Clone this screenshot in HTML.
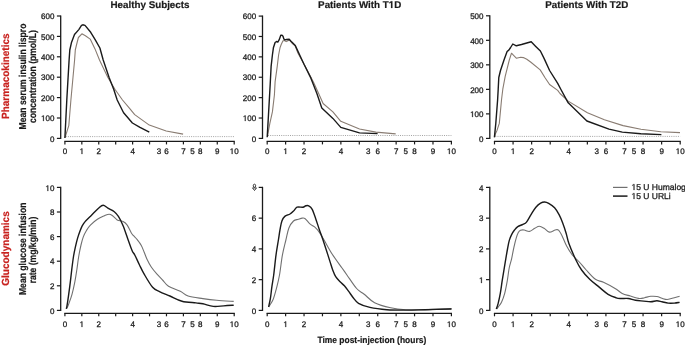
<!DOCTYPE html>
<html><head><meta charset="utf-8"><style>
html,body{margin:0;padding:0;background:#fff;}
svg{display:block;will-change:transform;}
text{font-family:"Liberation Sans", sans-serif;fill:#1a1a1a;text-rendering:geometricPrecision;}
.n{stroke:#1a1a1a;stroke-width:0.28px;}
[font-weight=bold]{stroke:#1a1a1a;stroke-width:0.2px;}
</style></head><body>
<svg width="685" height="346" viewBox="0 0 685 346">
<text x="150.0" y="8.1" text-anchor="middle" font-weight="bold" font-size="9.8">Healthy Subjects</text>
<text x="359.7" y="8.1" text-anchor="middle" font-weight="bold" font-size="9.8">Patients With T D</text>
<text x="586.8" y="8.1" text-anchor="middle" font-weight="bold" font-size="9.8">Patients With T2D</text>
<line x1="60.7" y1="15.4" x2="60.7" y2="139.0" stroke="#1a1a1a" stroke-width="1.3"/>
<line x1="56.900000000000006" y1="138.40" x2="60.7" y2="138.40" stroke="#1a1a1a" stroke-width="1.2"/>
<text x="54.40" y="141.60" text-anchor="end" font-size="8" class="n">0</text>
<line x1="56.900000000000006" y1="118.00" x2="60.7" y2="118.00" stroke="#1a1a1a" stroke-width="1.2"/>
<text x="54.40" y="121.20" text-anchor="end" font-size="8" class="n"> 00</text>
<line x1="56.900000000000006" y1="97.60" x2="60.7" y2="97.60" stroke="#1a1a1a" stroke-width="1.2"/>
<text x="54.40" y="100.80" text-anchor="end" font-size="8" class="n">200</text>
<line x1="56.900000000000006" y1="77.20" x2="60.7" y2="77.20" stroke="#1a1a1a" stroke-width="1.2"/>
<text x="54.40" y="80.40" text-anchor="end" font-size="8" class="n">300</text>
<line x1="56.900000000000006" y1="56.80" x2="60.7" y2="56.80" stroke="#1a1a1a" stroke-width="1.2"/>
<text x="54.40" y="60.00" text-anchor="end" font-size="8" class="n">400</text>
<line x1="56.900000000000006" y1="36.40" x2="60.7" y2="36.40" stroke="#1a1a1a" stroke-width="1.2"/>
<text x="54.40" y="39.60" text-anchor="end" font-size="8" class="n">500</text>
<line x1="56.900000000000006" y1="16.00" x2="60.7" y2="16.00" stroke="#1a1a1a" stroke-width="1.2"/>
<text x="54.40" y="19.20" text-anchor="end" font-size="8" class="n">600</text>
<line x1="64.30000000000001" y1="141.4" x2="234.8" y2="141.4" stroke="#1a1a1a" stroke-width="1.3"/>
<line x1="64.90" y1="141.4" x2="64.90" y2="144.4" stroke="#1a1a1a" stroke-width="1.2"/>
<line x1="81.83" y1="141.4" x2="81.83" y2="144.4" stroke="#1a1a1a" stroke-width="1.2"/>
<line x1="98.76" y1="141.4" x2="98.76" y2="144.4" stroke="#1a1a1a" stroke-width="1.2"/>
<line x1="115.69" y1="141.4" x2="115.69" y2="144.4" stroke="#1a1a1a" stroke-width="1.2"/>
<line x1="132.62" y1="141.4" x2="132.62" y2="144.4" stroke="#1a1a1a" stroke-width="1.2"/>
<line x1="149.55" y1="141.4" x2="149.55" y2="144.4" stroke="#1a1a1a" stroke-width="1.2"/>
<line x1="166.48" y1="141.4" x2="166.48" y2="144.4" stroke="#1a1a1a" stroke-width="1.2"/>
<line x1="183.41" y1="141.4" x2="183.41" y2="144.4" stroke="#1a1a1a" stroke-width="1.2"/>
<line x1="200.34" y1="141.4" x2="200.34" y2="144.4" stroke="#1a1a1a" stroke-width="1.2"/>
<line x1="217.27" y1="141.4" x2="217.27" y2="144.4" stroke="#1a1a1a" stroke-width="1.2"/>
<line x1="234.20" y1="141.4" x2="234.20" y2="144.4" stroke="#1a1a1a" stroke-width="1.2"/>
<text x="64.90" y="154.2" text-anchor="middle" font-size="8" class="n">0</text>
<text x="81.83" y="154.2" text-anchor="middle" font-size="8" class="n"> </text>
<text x="98.76" y="154.2" text-anchor="middle" font-size="8" class="n">2</text>
<text x="132.62" y="154.2" text-anchor="middle" font-size="8" class="n">4</text>
<text x="159.03" y="154.2" text-anchor="middle" font-size="8" class="n">3</text>
<text x="166.48" y="154.2" text-anchor="middle" font-size="8" class="n">6</text>
<text x="183.41" y="154.2" text-anchor="middle" font-size="8" class="n">7</text>
<text x="192.55" y="154.2" text-anchor="middle" font-size="8" class="n">5</text>
<text x="200.34" y="154.2" text-anchor="middle" font-size="8" class="n">8</text>
<text x="217.27" y="154.2" text-anchor="middle" font-size="8" class="n">9</text>
<text x="234.20" y="154.2" text-anchor="middle" font-size="8" class="n"> 0</text>
<line x1="65.7" y1="136.6" x2="234.20000000000002" y2="136.6" stroke="#9a9a9a" stroke-width="0.9" stroke-dasharray="1 1.2"/>
<polyline points="65.2,137.5 65.8,135.0 68.8,125.7 70.9,100.0 74.6,60.0 75.3,50.0 76.6,44.5 78.4,37.5 81.9,33.8 85.4,35.8 90.2,39.1 95.0,48.9 99.5,60.0 107.9,77.5 114.9,89.2 122.5,100.0 130.0,108.8 134.7,114.6 149.3,125.1 166.2,131.0 183.1,134.1" fill="none" stroke="#897c72" stroke-width="1.1" stroke-linejoin="round"/>
<polyline points="64.9,138.0 66.8,100.0 69.1,60.0 69.8,50.0 71.4,42.8 74.5,34.5 78.8,29.6 81.5,25.4 82.8,24.8 85.0,25.4 90.7,32.3 95.0,39.3 99.9,48.0 103.2,60.0 109.1,77.5 113.7,89.2 117.2,100.0 123.6,112.8 132.4,123.0 140.0,127.4 149.3,132.1" fill="none" stroke="#1a1a1a" stroke-width="1.4" stroke-linejoin="round"/>
<line x1="262.5" y1="15.500000000000002" x2="262.5" y2="139.0" stroke="#1a1a1a" stroke-width="1.3"/>
<line x1="258.7" y1="138.40" x2="262.5" y2="138.40" stroke="#1a1a1a" stroke-width="1.2"/>
<text x="256.20" y="141.60" text-anchor="end" font-size="8" class="n">0</text>
<line x1="258.7" y1="118.02" x2="262.5" y2="118.02" stroke="#1a1a1a" stroke-width="1.2"/>
<text x="256.20" y="121.22" text-anchor="end" font-size="8" class="n"> 00</text>
<line x1="258.7" y1="97.63" x2="262.5" y2="97.63" stroke="#1a1a1a" stroke-width="1.2"/>
<text x="256.20" y="100.83" text-anchor="end" font-size="8" class="n">200</text>
<line x1="258.7" y1="77.25" x2="262.5" y2="77.25" stroke="#1a1a1a" stroke-width="1.2"/>
<text x="256.20" y="80.45" text-anchor="end" font-size="8" class="n">300</text>
<line x1="258.7" y1="56.87" x2="262.5" y2="56.87" stroke="#1a1a1a" stroke-width="1.2"/>
<text x="256.20" y="60.07" text-anchor="end" font-size="8" class="n">400</text>
<line x1="258.7" y1="36.48" x2="262.5" y2="36.48" stroke="#1a1a1a" stroke-width="1.2"/>
<text x="256.20" y="39.68" text-anchor="end" font-size="8" class="n">500</text>
<line x1="258.7" y1="16.10" x2="262.5" y2="16.10" stroke="#1a1a1a" stroke-width="1.2"/>
<text x="256.20" y="19.30" text-anchor="end" font-size="8" class="n">600</text>
<line x1="266.59999999999997" y1="141.4" x2="452.0" y2="141.4" stroke="#1a1a1a" stroke-width="1.3"/>
<line x1="267.20" y1="141.4" x2="267.20" y2="144.4" stroke="#1a1a1a" stroke-width="1.2"/>
<line x1="285.62" y1="141.4" x2="285.62" y2="144.4" stroke="#1a1a1a" stroke-width="1.2"/>
<line x1="304.04" y1="141.4" x2="304.04" y2="144.4" stroke="#1a1a1a" stroke-width="1.2"/>
<line x1="322.46" y1="141.4" x2="322.46" y2="144.4" stroke="#1a1a1a" stroke-width="1.2"/>
<line x1="340.88" y1="141.4" x2="340.88" y2="144.4" stroke="#1a1a1a" stroke-width="1.2"/>
<line x1="359.30" y1="141.4" x2="359.30" y2="144.4" stroke="#1a1a1a" stroke-width="1.2"/>
<line x1="377.72" y1="141.4" x2="377.72" y2="144.4" stroke="#1a1a1a" stroke-width="1.2"/>
<line x1="396.14" y1="141.4" x2="396.14" y2="144.4" stroke="#1a1a1a" stroke-width="1.2"/>
<line x1="414.56" y1="141.4" x2="414.56" y2="144.4" stroke="#1a1a1a" stroke-width="1.2"/>
<line x1="432.98" y1="141.4" x2="432.98" y2="144.4" stroke="#1a1a1a" stroke-width="1.2"/>
<line x1="451.40" y1="141.4" x2="451.40" y2="144.4" stroke="#1a1a1a" stroke-width="1.2"/>
<text x="267.20" y="154.2" text-anchor="middle" font-size="8" class="n">0</text>
<text x="285.62" y="154.2" text-anchor="middle" font-size="8" class="n"> </text>
<text x="304.04" y="154.2" text-anchor="middle" font-size="8" class="n">2</text>
<text x="340.88" y="154.2" text-anchor="middle" font-size="8" class="n">4</text>
<text x="368.14" y="154.2" text-anchor="middle" font-size="8" class="n">3</text>
<text x="377.72" y="154.2" text-anchor="middle" font-size="8" class="n">6</text>
<text x="396.14" y="154.2" text-anchor="middle" font-size="8" class="n">7</text>
<text x="405.72" y="154.2" text-anchor="middle" font-size="8" class="n">5</text>
<text x="414.56" y="154.2" text-anchor="middle" font-size="8" class="n">8</text>
<text x="432.98" y="154.2" text-anchor="middle" font-size="8" class="n">9</text>
<text x="451.40" y="154.2" text-anchor="middle" font-size="8" class="n"> 0</text>
<line x1="268.0" y1="135.5" x2="451.4" y2="135.5" stroke="#9a9a9a" stroke-width="0.9" stroke-dasharray="1 1.2"/>
<polyline points="267.5,136.5 267.9,134.0 269.8,123.6 272.4,111.9 274.4,95.0 275.1,81.9 277.2,66.7 278.6,55.0 280.0,47.8 281.3,44.3 283.0,40.8 284.6,40.6 286.1,41.6 287.4,40.9 289.2,39.9 292.7,43.8 295.3,46.0 297.9,53.0 299.5,56.0 304.5,65.0 313.4,81.9 319.2,94.7 323.1,103.5 332.9,111.9 340.8,121.3 359.5,129.0 375.9,132.1 395.7,133.9" fill="none" stroke="#897c72" stroke-width="1.1" stroke-linejoin="round"/>
<polyline points="267.2,137.3 268.5,114.5 269.6,95.0 270.2,84.2 271.1,66.7 272.4,55.0 273.4,47.8 275.1,42.5 276.5,41.5 277.8,42.1 279.1,39.9 280.8,35.3 282.0,35.1 283.0,36.2 283.9,39.0 284.9,39.9 286.5,39.5 289.2,39.2 291.8,42.1 295.3,45.6 299.7,55.0 304.0,64.3 311.0,78.4 316.9,93.5 321.8,108.0 332.9,118.4 340.8,127.4 359.5,132.9 377.6,133.6" fill="none" stroke="#1a1a1a" stroke-width="1.4" stroke-linejoin="round"/>
<line x1="489.8" y1="15.200000000000001" x2="489.8" y2="139.0" stroke="#1a1a1a" stroke-width="1.3"/>
<line x1="486.0" y1="138.40" x2="489.8" y2="138.40" stroke="#1a1a1a" stroke-width="1.2"/>
<text x="483.50" y="141.60" text-anchor="end" font-size="8" class="n">0</text>
<line x1="486.0" y1="113.88" x2="489.8" y2="113.88" stroke="#1a1a1a" stroke-width="1.2"/>
<text x="483.50" y="117.08" text-anchor="end" font-size="8" class="n"> 00</text>
<line x1="486.0" y1="89.36" x2="489.8" y2="89.36" stroke="#1a1a1a" stroke-width="1.2"/>
<text x="483.50" y="92.56" text-anchor="end" font-size="8" class="n">200</text>
<line x1="486.0" y1="64.84" x2="489.8" y2="64.84" stroke="#1a1a1a" stroke-width="1.2"/>
<text x="483.50" y="68.04" text-anchor="end" font-size="8" class="n">300</text>
<line x1="486.0" y1="40.32" x2="489.8" y2="40.32" stroke="#1a1a1a" stroke-width="1.2"/>
<text x="483.50" y="43.52" text-anchor="end" font-size="8" class="n">400</text>
<line x1="486.0" y1="15.80" x2="489.8" y2="15.80" stroke="#1a1a1a" stroke-width="1.2"/>
<text x="483.50" y="19.00" text-anchor="end" font-size="8" class="n">500</text>
<line x1="493.9" y1="141.4" x2="680.8000000000001" y2="141.4" stroke="#1a1a1a" stroke-width="1.3"/>
<line x1="494.50" y1="141.4" x2="494.50" y2="144.4" stroke="#1a1a1a" stroke-width="1.2"/>
<line x1="513.07" y1="141.4" x2="513.07" y2="144.4" stroke="#1a1a1a" stroke-width="1.2"/>
<line x1="531.64" y1="141.4" x2="531.64" y2="144.4" stroke="#1a1a1a" stroke-width="1.2"/>
<line x1="550.21" y1="141.4" x2="550.21" y2="144.4" stroke="#1a1a1a" stroke-width="1.2"/>
<line x1="568.78" y1="141.4" x2="568.78" y2="144.4" stroke="#1a1a1a" stroke-width="1.2"/>
<line x1="587.35" y1="141.4" x2="587.35" y2="144.4" stroke="#1a1a1a" stroke-width="1.2"/>
<line x1="605.92" y1="141.4" x2="605.92" y2="144.4" stroke="#1a1a1a" stroke-width="1.2"/>
<line x1="624.49" y1="141.4" x2="624.49" y2="144.4" stroke="#1a1a1a" stroke-width="1.2"/>
<line x1="643.06" y1="141.4" x2="643.06" y2="144.4" stroke="#1a1a1a" stroke-width="1.2"/>
<line x1="661.63" y1="141.4" x2="661.63" y2="144.4" stroke="#1a1a1a" stroke-width="1.2"/>
<line x1="680.20" y1="141.4" x2="680.20" y2="144.4" stroke="#1a1a1a" stroke-width="1.2"/>
<text x="494.50" y="154.2" text-anchor="middle" font-size="8" class="n">0</text>
<text x="513.07" y="154.2" text-anchor="middle" font-size="8" class="n"> </text>
<text x="531.64" y="154.2" text-anchor="middle" font-size="8" class="n">2</text>
<text x="568.78" y="154.2" text-anchor="middle" font-size="8" class="n">4</text>
<text x="596.82" y="154.2" text-anchor="middle" font-size="8" class="n">3</text>
<text x="605.92" y="154.2" text-anchor="middle" font-size="8" class="n">6</text>
<text x="624.49" y="154.2" text-anchor="middle" font-size="8" class="n">7</text>
<text x="633.96" y="154.2" text-anchor="middle" font-size="8" class="n">5</text>
<text x="643.06" y="154.2" text-anchor="middle" font-size="8" class="n">8</text>
<text x="661.63" y="154.2" text-anchor="middle" font-size="8" class="n">9</text>
<text x="680.20" y="154.2" text-anchor="middle" font-size="8" class="n"> 0</text>
<line x1="495.3" y1="136.4" x2="680.2" y2="136.4" stroke="#9a9a9a" stroke-width="0.9" stroke-dasharray="1 1.2"/>
<polyline points="494.8,136.5 495.3,133.9 497.0,130.4 499.3,123.4 501.5,100.0 502.8,89.2 505.2,76.4 509.3,60.0 511.5,53.2 513.6,55.4 516.3,58.2 520.7,57.3 523.3,57.6 526.8,59.3 530.9,62.3 540.2,69.9 544.9,77.5 549.6,84.5 557.7,90.4 560.0,93.5 568.2,101.1 587.4,112.8 604.4,119.8 623.1,125.6 640.9,129.2 660.8,131.7 680.0,132.6" fill="none" stroke="#897c72" stroke-width="1.1" stroke-linejoin="round"/>
<polyline points="494.4,137.4 495.8,123.4 497.6,100.0 498.2,89.2 498.8,77.5 500.5,70.5 504.0,60.0 507.1,51.5 508.8,50.1 510.6,47.5 512.8,44.0 516.3,45.8 521.5,44.5 526.8,43.0 531.2,41.8 535.5,46.2 540.4,51.0 544.3,58.9 549.6,70.5 557.7,83.4 561.2,90.0 568.2,102.8 586.9,121.0 609.0,129.1 622.3,132.1 640.9,133.8 661.4,134.6" fill="none" stroke="#1a1a1a" stroke-width="1.4" stroke-linejoin="round"/>
<line x1="60.7" y1="186.8" x2="60.7" y2="311.0" stroke="#1a1a1a" stroke-width="1.3"/>
<line x1="56.900000000000006" y1="310.40" x2="60.7" y2="310.40" stroke="#1a1a1a" stroke-width="1.2"/>
<text x="54.40" y="313.60" text-anchor="end" font-size="8" class="n">0</text>
<line x1="56.900000000000006" y1="285.80" x2="60.7" y2="285.80" stroke="#1a1a1a" stroke-width="1.2"/>
<text x="54.40" y="289.00" text-anchor="end" font-size="8" class="n">2</text>
<line x1="56.900000000000006" y1="261.20" x2="60.7" y2="261.20" stroke="#1a1a1a" stroke-width="1.2"/>
<text x="54.40" y="264.40" text-anchor="end" font-size="8" class="n">4</text>
<line x1="56.900000000000006" y1="236.60" x2="60.7" y2="236.60" stroke="#1a1a1a" stroke-width="1.2"/>
<text x="54.40" y="239.80" text-anchor="end" font-size="8" class="n">6</text>
<line x1="56.900000000000006" y1="212.00" x2="60.7" y2="212.00" stroke="#1a1a1a" stroke-width="1.2"/>
<text x="54.40" y="215.20" text-anchor="end" font-size="8" class="n">8</text>
<line x1="56.900000000000006" y1="187.40" x2="60.7" y2="187.40" stroke="#1a1a1a" stroke-width="1.2"/>
<text x="54.40" y="190.60" text-anchor="end" font-size="8" class="n"> 0</text>
<line x1="64.30000000000001" y1="313.3" x2="234.8" y2="313.3" stroke="#1a1a1a" stroke-width="1.3"/>
<line x1="64.90" y1="313.3" x2="64.90" y2="316.3" stroke="#1a1a1a" stroke-width="1.2"/>
<line x1="81.83" y1="313.3" x2="81.83" y2="316.3" stroke="#1a1a1a" stroke-width="1.2"/>
<line x1="98.76" y1="313.3" x2="98.76" y2="316.3" stroke="#1a1a1a" stroke-width="1.2"/>
<line x1="115.69" y1="313.3" x2="115.69" y2="316.3" stroke="#1a1a1a" stroke-width="1.2"/>
<line x1="132.62" y1="313.3" x2="132.62" y2="316.3" stroke="#1a1a1a" stroke-width="1.2"/>
<line x1="149.55" y1="313.3" x2="149.55" y2="316.3" stroke="#1a1a1a" stroke-width="1.2"/>
<line x1="166.48" y1="313.3" x2="166.48" y2="316.3" stroke="#1a1a1a" stroke-width="1.2"/>
<line x1="183.41" y1="313.3" x2="183.41" y2="316.3" stroke="#1a1a1a" stroke-width="1.2"/>
<line x1="200.34" y1="313.3" x2="200.34" y2="316.3" stroke="#1a1a1a" stroke-width="1.2"/>
<line x1="217.27" y1="313.3" x2="217.27" y2="316.3" stroke="#1a1a1a" stroke-width="1.2"/>
<line x1="234.20" y1="313.3" x2="234.20" y2="316.3" stroke="#1a1a1a" stroke-width="1.2"/>
<text x="64.90" y="327.2" text-anchor="middle" font-size="8" class="n">0</text>
<text x="81.83" y="327.2" text-anchor="middle" font-size="8" class="n"> </text>
<text x="98.76" y="327.2" text-anchor="middle" font-size="8" class="n">2</text>
<text x="132.62" y="327.2" text-anchor="middle" font-size="8" class="n">4</text>
<text x="159.03" y="327.2" text-anchor="middle" font-size="8" class="n">3</text>
<text x="166.48" y="327.2" text-anchor="middle" font-size="8" class="n">6</text>
<text x="183.41" y="327.2" text-anchor="middle" font-size="8" class="n">7</text>
<text x="192.55" y="327.2" text-anchor="middle" font-size="8" class="n">5</text>
<text x="200.34" y="327.2" text-anchor="middle" font-size="8" class="n">8</text>
<text x="217.27" y="327.2" text-anchor="middle" font-size="8" class="n">9</text>
<text x="234.20" y="327.2" text-anchor="middle" font-size="8" class="n"> 0</text>
<path d="M66.90,308.30 C67.20,307.58 67.85,306.33 68.70,304.00 C69.55,301.67 70.98,297.95 72.00,294.30 C73.02,290.65 74.00,286.15 74.80,282.10 C75.60,278.05 76.15,274.27 76.80,270.00 C77.45,265.73 78.00,260.67 78.70,256.50 C79.40,252.33 80.23,248.27 81.00,245.00 C81.77,241.73 82.37,239.35 83.30,236.90 C84.23,234.45 85.42,232.27 86.60,230.30 C87.78,228.33 88.60,226.93 90.40,225.10 C92.20,223.27 95.07,220.85 97.40,219.30 C99.73,217.75 102.45,216.65 104.40,215.80 C106.35,214.95 107.73,214.20 109.10,214.20 C110.47,214.20 111.25,214.85 112.60,215.80 C113.95,216.75 115.45,218.93 117.20,219.90 C118.95,220.87 121.43,220.73 123.10,221.60 C124.77,222.47 125.85,223.25 127.20,225.10 C128.55,226.95 130.15,230.93 131.20,232.70 C132.25,234.47 132.50,234.55 133.50,235.70 C134.50,236.85 135.90,237.98 137.20,239.60 C138.50,241.22 140.13,243.28 141.30,245.40 C142.47,247.52 143.25,250.00 144.20,252.30 C145.15,254.60 145.85,256.80 147.00,259.20 C148.15,261.60 149.43,264.20 151.10,266.70 C152.77,269.20 155.02,271.90 157.00,274.20 C158.98,276.50 161.08,278.48 163.00,280.50 C164.92,282.52 165.62,284.50 168.50,286.30 C171.38,288.10 177.03,289.68 180.30,291.30 C183.57,292.92 184.33,294.78 188.10,296.00 C191.87,297.22 198.13,297.88 202.90,298.60 C207.67,299.32 211.57,299.83 216.70,300.30 C221.83,300.77 230.87,301.22 233.70,301.40" fill="none" stroke="#707070" stroke-width="1.1" stroke-linejoin="round"/>
<path d="M66.30,308.90 C66.43,308.28 66.70,307.63 67.10,305.20 C67.50,302.77 68.17,298.15 68.70,294.30 C69.23,290.45 69.80,286.15 70.30,282.10 C70.80,278.05 71.17,274.27 71.70,270.00 C72.23,265.73 72.90,260.28 73.50,256.50 C74.10,252.72 74.62,250.37 75.30,247.30 C75.98,244.23 76.78,240.90 77.60,238.10 C78.42,235.30 79.43,232.55 80.20,230.50 C80.97,228.45 81.38,227.28 82.20,225.80 C83.02,224.32 83.55,223.37 85.10,221.60 C86.65,219.83 89.27,217.43 91.50,215.20 C93.73,212.97 96.55,209.85 98.50,208.20 C100.45,206.55 101.63,205.30 103.20,205.30 C104.77,205.30 106.05,207.13 107.90,208.20 C109.75,209.27 112.55,210.33 114.30,211.70 C116.05,213.07 116.93,214.07 118.40,216.40 C119.87,218.73 121.50,221.83 123.10,225.70 C124.70,229.57 126.77,236.13 128.00,239.60 C129.23,243.07 129.73,244.48 130.50,246.50 C131.27,248.52 131.87,250.25 132.60,251.70 C133.33,253.15 133.75,252.98 134.90,255.20 C136.05,257.42 137.95,261.83 139.50,265.00 C141.05,268.17 142.02,270.48 144.20,274.20 C146.38,277.92 150.05,284.40 152.60,287.30 C155.15,290.20 156.62,290.15 159.50,291.60 C162.38,293.05 166.15,294.40 169.90,296.00 C173.65,297.60 177.67,300.05 182.00,301.20 C186.33,302.35 192.42,302.47 195.90,302.90 C199.38,303.33 200.00,303.22 202.90,303.80 C205.80,304.38 209.83,306.05 213.30,306.40 C216.77,306.75 220.30,306.10 223.70,305.90 C227.10,305.70 232.03,305.32 233.70,305.20" fill="none" stroke="#1a1a1a" stroke-width="1.4" stroke-linejoin="round"/>
<line x1="262.5" y1="186.8" x2="262.5" y2="311.0" stroke="#1a1a1a" stroke-width="1.3"/>
<line x1="258.7" y1="310.40" x2="262.5" y2="310.40" stroke="#1a1a1a" stroke-width="1.2"/>
<text x="256.20" y="313.60" text-anchor="end" font-size="8" class="n">0</text>
<line x1="258.7" y1="279.65" x2="262.5" y2="279.65" stroke="#1a1a1a" stroke-width="1.2"/>
<text x="256.20" y="282.85" text-anchor="end" font-size="8" class="n">2</text>
<line x1="258.7" y1="248.90" x2="262.5" y2="248.90" stroke="#1a1a1a" stroke-width="1.2"/>
<text x="256.20" y="252.10" text-anchor="end" font-size="8" class="n">4</text>
<line x1="258.7" y1="218.15" x2="262.5" y2="218.15" stroke="#1a1a1a" stroke-width="1.2"/>
<text x="256.20" y="221.35" text-anchor="end" font-size="8" class="n">6</text>
<line x1="258.7" y1="187.40" x2="262.5" y2="187.40" stroke="#1a1a1a" stroke-width="1.2"/>
<ellipse cx="254.45" cy="185.75" rx="1.2" ry="1.55" fill="none" stroke="#1a1a1a" stroke-width="0.85"/>
<path d="M252.5,187.9 L256.5,187.9 L254.5,190.5 Z" fill="none" stroke="#1a1a1a" stroke-width="0.85" stroke-linejoin="round"/>
<line x1="266.59999999999997" y1="313.3" x2="452.0" y2="313.3" stroke="#1a1a1a" stroke-width="1.3"/>
<line x1="267.20" y1="313.3" x2="267.20" y2="316.3" stroke="#1a1a1a" stroke-width="1.2"/>
<line x1="285.62" y1="313.3" x2="285.62" y2="316.3" stroke="#1a1a1a" stroke-width="1.2"/>
<line x1="304.04" y1="313.3" x2="304.04" y2="316.3" stroke="#1a1a1a" stroke-width="1.2"/>
<line x1="322.46" y1="313.3" x2="322.46" y2="316.3" stroke="#1a1a1a" stroke-width="1.2"/>
<line x1="340.88" y1="313.3" x2="340.88" y2="316.3" stroke="#1a1a1a" stroke-width="1.2"/>
<line x1="359.30" y1="313.3" x2="359.30" y2="316.3" stroke="#1a1a1a" stroke-width="1.2"/>
<line x1="377.72" y1="313.3" x2="377.72" y2="316.3" stroke="#1a1a1a" stroke-width="1.2"/>
<line x1="396.14" y1="313.3" x2="396.14" y2="316.3" stroke="#1a1a1a" stroke-width="1.2"/>
<line x1="414.56" y1="313.3" x2="414.56" y2="316.3" stroke="#1a1a1a" stroke-width="1.2"/>
<line x1="432.98" y1="313.3" x2="432.98" y2="316.3" stroke="#1a1a1a" stroke-width="1.2"/>
<line x1="451.40" y1="313.3" x2="451.40" y2="316.3" stroke="#1a1a1a" stroke-width="1.2"/>
<text x="267.20" y="327.2" text-anchor="middle" font-size="8" class="n">0</text>
<text x="285.62" y="327.2" text-anchor="middle" font-size="8" class="n"> </text>
<text x="304.04" y="327.2" text-anchor="middle" font-size="8" class="n">2</text>
<text x="340.88" y="327.2" text-anchor="middle" font-size="8" class="n">4</text>
<text x="368.14" y="327.2" text-anchor="middle" font-size="8" class="n">3</text>
<text x="377.72" y="327.2" text-anchor="middle" font-size="8" class="n">6</text>
<text x="396.14" y="327.2" text-anchor="middle" font-size="8" class="n">7</text>
<text x="405.72" y="327.2" text-anchor="middle" font-size="8" class="n">5</text>
<text x="414.56" y="327.2" text-anchor="middle" font-size="8" class="n">8</text>
<text x="432.98" y="327.2" text-anchor="middle" font-size="8" class="n">9</text>
<text x="451.40" y="327.2" text-anchor="middle" font-size="8" class="n"> 0</text>
<path d="M268.80,306.80 C269.52,305.58 271.80,302.67 273.10,299.50 C274.40,296.33 275.53,291.88 276.60,287.80 C277.67,283.72 278.53,280.43 279.50,275.00 C280.47,269.57 281.33,261.03 282.40,255.20 C283.47,249.37 284.82,244.53 285.90,240.00 C286.98,235.47 287.63,231.17 288.90,228.00 C290.17,224.83 291.95,222.45 293.50,221.00 C295.05,219.55 296.73,219.78 298.20,219.30 C299.67,218.82 301.13,218.20 302.30,218.10 C303.47,218.00 303.93,217.73 305.20,218.70 C306.47,219.67 308.33,222.53 309.90,223.90 C311.47,225.27 313.05,225.53 314.60,226.90 C316.15,228.27 317.65,229.97 319.20,232.10 C320.75,234.23 321.75,236.05 323.90,239.70 C326.05,243.35 329.08,249.28 332.10,254.00 C335.12,258.72 339.50,264.47 342.00,268.00 C344.50,271.53 344.67,271.78 347.10,275.20 C349.53,278.62 353.75,285.33 356.60,288.50 C359.45,291.67 361.20,291.83 364.20,294.20 C367.20,296.57 370.18,300.43 374.60,302.70 C379.02,304.97 385.48,306.63 390.70,307.80 C395.92,308.97 400.20,309.38 405.90,309.70 C411.60,310.02 417.30,309.88 424.90,309.70 C432.50,309.52 447.07,308.78 451.50,308.60" fill="none" stroke="#707070" stroke-width="1.1" stroke-linejoin="round"/>
<path d="M268.60,307.00 C268.90,305.57 269.85,301.78 270.40,298.40 C270.95,295.02 271.35,290.60 271.90,286.70 C272.45,282.80 273.02,280.25 273.70,275.00 C274.38,269.75 275.22,261.03 276.00,255.20 C276.78,249.37 277.72,244.33 278.40,240.00 C279.08,235.67 279.52,232.37 280.10,229.20 C280.68,226.03 281.12,223.13 281.90,221.00 C282.68,218.87 283.45,217.57 284.80,216.40 C286.15,215.23 288.55,214.88 290.00,214.00 C291.45,213.12 292.33,212.23 293.50,211.10 C294.67,209.97 295.43,207.85 297.00,207.20 C298.57,206.55 301.43,207.43 302.90,207.20 C304.37,206.97 304.83,206.03 305.80,205.80 C306.77,205.57 307.63,205.22 308.70,205.80 C309.77,206.38 311.03,207.15 312.20,209.30 C313.37,211.45 314.53,215.38 315.70,218.70 C316.87,222.02 318.03,225.80 319.20,229.20 C320.37,232.60 321.52,235.63 322.70,239.10 C323.88,242.57 325.08,246.25 326.30,250.00 C327.52,253.75 328.92,258.23 330.00,261.60 C331.08,264.97 331.85,267.68 332.80,270.20 C333.75,272.72 334.48,274.77 335.70,276.70 C336.92,278.63 338.65,280.28 340.10,281.80 C341.55,283.32 342.97,284.20 344.40,285.80 C345.83,287.40 347.17,289.33 348.70,291.40 C350.23,293.47 351.97,296.22 353.60,298.20 C355.23,300.18 355.78,301.77 358.50,303.30 C361.22,304.83 365.17,306.33 369.90,307.40 C374.63,308.47 380.90,309.25 386.90,309.70 C392.90,310.15 399.57,310.10 405.90,310.10 C412.23,310.10 417.30,309.88 424.90,309.70 C432.50,309.52 447.07,309.12 451.50,309.00" fill="none" stroke="#1a1a1a" stroke-width="1.4" stroke-linejoin="round"/>
<line x1="489.8" y1="186.8" x2="489.8" y2="311.0" stroke="#1a1a1a" stroke-width="1.3"/>
<line x1="486.0" y1="310.40" x2="489.8" y2="310.40" stroke="#1a1a1a" stroke-width="1.2"/>
<text x="483.50" y="313.60" text-anchor="end" font-size="8" class="n">0</text>
<line x1="486.0" y1="279.65" x2="489.8" y2="279.65" stroke="#1a1a1a" stroke-width="1.2"/>
<text x="483.50" y="282.85" text-anchor="end" font-size="8" class="n"> </text>
<line x1="486.0" y1="248.90" x2="489.8" y2="248.90" stroke="#1a1a1a" stroke-width="1.2"/>
<text x="483.50" y="252.10" text-anchor="end" font-size="8" class="n">2</text>
<line x1="486.0" y1="218.15" x2="489.8" y2="218.15" stroke="#1a1a1a" stroke-width="1.2"/>
<text x="483.50" y="221.35" text-anchor="end" font-size="8" class="n">3</text>
<line x1="486.0" y1="187.40" x2="489.8" y2="187.40" stroke="#1a1a1a" stroke-width="1.2"/>
<text x="483.50" y="190.60" text-anchor="end" font-size="8" class="n">4</text>
<line x1="493.9" y1="313.3" x2="680.8000000000001" y2="313.3" stroke="#1a1a1a" stroke-width="1.3"/>
<line x1="494.50" y1="313.3" x2="494.50" y2="316.3" stroke="#1a1a1a" stroke-width="1.2"/>
<line x1="513.07" y1="313.3" x2="513.07" y2="316.3" stroke="#1a1a1a" stroke-width="1.2"/>
<line x1="531.64" y1="313.3" x2="531.64" y2="316.3" stroke="#1a1a1a" stroke-width="1.2"/>
<line x1="550.21" y1="313.3" x2="550.21" y2="316.3" stroke="#1a1a1a" stroke-width="1.2"/>
<line x1="568.78" y1="313.3" x2="568.78" y2="316.3" stroke="#1a1a1a" stroke-width="1.2"/>
<line x1="587.35" y1="313.3" x2="587.35" y2="316.3" stroke="#1a1a1a" stroke-width="1.2"/>
<line x1="605.92" y1="313.3" x2="605.92" y2="316.3" stroke="#1a1a1a" stroke-width="1.2"/>
<line x1="624.49" y1="313.3" x2="624.49" y2="316.3" stroke="#1a1a1a" stroke-width="1.2"/>
<line x1="643.06" y1="313.3" x2="643.06" y2="316.3" stroke="#1a1a1a" stroke-width="1.2"/>
<line x1="661.63" y1="313.3" x2="661.63" y2="316.3" stroke="#1a1a1a" stroke-width="1.2"/>
<line x1="680.20" y1="313.3" x2="680.20" y2="316.3" stroke="#1a1a1a" stroke-width="1.2"/>
<text x="494.50" y="327.2" text-anchor="middle" font-size="8" class="n">0</text>
<text x="513.07" y="327.2" text-anchor="middle" font-size="8" class="n"> </text>
<text x="531.64" y="327.2" text-anchor="middle" font-size="8" class="n">2</text>
<text x="568.78" y="327.2" text-anchor="middle" font-size="8" class="n">4</text>
<text x="596.82" y="327.2" text-anchor="middle" font-size="8" class="n">3</text>
<text x="605.92" y="327.2" text-anchor="middle" font-size="8" class="n">6</text>
<text x="624.49" y="327.2" text-anchor="middle" font-size="8" class="n">7</text>
<text x="633.96" y="327.2" text-anchor="middle" font-size="8" class="n">5</text>
<text x="643.06" y="327.2" text-anchor="middle" font-size="8" class="n">8</text>
<text x="661.63" y="327.2" text-anchor="middle" font-size="8" class="n">9</text>
<text x="680.20" y="327.2" text-anchor="middle" font-size="8" class="n"> 0</text>
<path d="M496.80,309.00 C497.07,308.63 497.62,307.92 498.40,306.80 C499.18,305.68 500.45,304.53 501.50,302.30 C502.55,300.07 503.73,297.00 504.70,293.40 C505.67,289.80 506.55,284.93 507.30,280.70 C508.05,276.47 508.48,271.65 509.20,268.00 C509.92,264.35 510.82,262.25 511.60,258.80 C512.38,255.35 513.13,250.75 513.90,247.30 C514.67,243.85 515.47,240.57 516.20,238.10 C516.93,235.63 517.58,233.80 518.30,232.50 C519.02,231.20 519.52,230.72 520.50,230.30 C521.48,229.88 522.70,229.82 524.20,230.00 C525.70,230.18 527.75,231.68 529.50,231.40 C531.25,231.12 533.05,229.15 534.70,228.30 C536.35,227.45 537.83,226.30 539.40,226.30 C540.97,226.30 542.45,227.33 544.10,228.30 C545.75,229.27 547.45,231.82 549.30,232.10 C551.15,232.38 553.67,230.33 555.20,230.00 C556.73,229.67 557.38,229.20 558.50,230.10 C559.62,231.00 560.57,232.78 561.90,235.40 C563.23,238.02 564.77,242.53 566.50,245.80 C568.23,249.07 570.17,252.30 572.30,255.00 C574.43,257.70 576.98,259.50 579.30,262.00 C581.62,264.50 583.52,267.12 586.20,270.00 C588.88,272.88 592.52,277.25 595.40,279.30 C598.28,281.35 600.22,280.77 603.50,282.30 C606.78,283.83 611.98,286.65 615.10,288.50 C618.22,290.35 619.67,292.15 622.20,293.40 C624.73,294.65 627.42,295.15 630.30,296.00 C633.18,296.85 637.12,298.22 639.50,298.50 C641.88,298.78 642.72,298.07 644.60,297.70 C646.48,297.33 648.75,296.50 650.80,296.30 C652.85,296.10 655.03,296.17 656.90,296.50 C658.77,296.83 660.30,297.80 662.00,298.30 C663.70,298.80 665.40,299.50 667.10,299.50 C668.80,299.50 670.12,298.83 672.20,298.30 C674.28,297.77 678.37,296.63 679.60,296.30" fill="none" stroke="#707070" stroke-width="1.1" stroke-linejoin="round"/>
<path d="M496.30,309.00 C496.60,308.10 497.43,306.20 498.10,303.60 C498.77,301.00 499.62,297.22 500.30,293.40 C500.98,289.58 501.57,284.73 502.20,280.70 C502.83,276.67 503.50,272.85 504.10,269.20 C504.70,265.55 505.22,262.25 505.80,258.80 C506.38,255.35 507.02,251.57 507.60,248.50 C508.18,245.43 508.63,242.72 509.30,240.40 C509.97,238.08 510.73,236.33 511.60,234.60 C512.47,232.87 513.47,231.33 514.50,230.00 C515.53,228.67 516.38,227.53 517.80,226.60 C519.22,225.67 521.55,225.15 523.00,224.40 C524.45,223.65 525.13,223.78 526.50,222.10 C527.87,220.42 529.63,216.77 531.20,214.30 C532.77,211.83 534.33,209.15 535.90,207.30 C537.47,205.45 539.15,204.08 540.60,203.20 C542.05,202.32 543.25,201.97 544.60,202.00 C545.95,202.03 547.03,202.43 548.70,203.40 C550.37,204.37 552.85,205.88 554.60,207.80 C556.35,209.72 557.85,212.37 559.20,214.90 C560.55,217.43 561.53,219.90 562.70,223.00 C563.87,226.10 565.17,230.08 566.20,233.50 C567.23,236.92 567.30,239.13 568.90,243.50 C570.50,247.87 573.68,255.28 575.80,259.70 C577.92,264.12 579.28,266.73 581.60,270.00 C583.92,273.27 586.82,276.48 589.70,279.30 C592.58,282.12 595.83,284.40 598.90,286.90 C601.97,289.40 605.22,292.48 608.10,294.30 C610.98,296.12 614.03,297.10 616.20,297.80 C618.37,298.50 619.08,298.38 621.10,298.50 C623.12,298.62 625.92,298.20 628.30,298.50 C630.68,298.80 632.85,299.87 635.40,300.30 C637.95,300.73 641.03,300.85 643.60,301.10 C646.17,301.35 648.58,301.85 650.80,301.80 C653.02,301.75 655.03,300.80 656.90,300.80 C658.77,300.80 660.13,301.42 662.00,301.80 C663.87,302.18 666.05,302.88 668.10,303.10 C670.15,303.32 672.38,303.22 674.30,303.10 C676.22,302.98 678.72,302.52 679.60,302.40" fill="none" stroke="#1a1a1a" stroke-width="1.4" stroke-linejoin="round"/>
<text transform="translate(8.6,76.2) rotate(-90) scale(0.962,1)" text-anchor="middle" font-weight="bold" font-size="10.4" style="fill:#c8221f;stroke:#c8221f">Pharmacokinetics</text>
<text transform="translate(25.9,76.5) rotate(-90) scale(0.858,1)" text-anchor="middle" font-weight="bold" font-size="10" style="fill:#1a1a1a;stroke:#1a1a1a">Mean serum insulin lispro</text>
<text transform="translate(36.4,76.5) rotate(-90) scale(0.858,1)" text-anchor="middle" font-weight="bold" font-size="10" style="fill:#1a1a1a;stroke:#1a1a1a">concentration (pmol/L)</text>
<text transform="translate(8.6,248.5) rotate(-90) scale(0.962,1)" text-anchor="middle" font-weight="bold" font-size="10.4" style="fill:#c8221f;stroke:#c8221f">Glucodynamics</text>
<text transform="translate(25.9,248.8) rotate(-90) scale(0.858,1)" text-anchor="middle" font-weight="bold" font-size="10" style="fill:#1a1a1a;stroke:#1a1a1a">Mean glucose infusion</text>
<text transform="translate(36.4,250.0) rotate(-90) scale(0.858,1)" text-anchor="middle" font-weight="bold" font-size="10" style="fill:#1a1a1a;stroke:#1a1a1a">rate (mg/kg/min)</text>
<line x1="613" y1="187.4" x2="627.5" y2="187.4" stroke="#707070" stroke-width="1.2"/>
<line x1="613" y1="196.1" x2="627.5" y2="196.1" stroke="#1a1a1a" stroke-width="1.5"/>
<text x="631.5" y="189.7" font-size="8.5" class="n"> 5 U Humalog</text>
<text x="631.5" y="198.5" font-size="8.5" class="n"> 5 U URLi</text>
<text x="371.8" y="342.7" text-anchor="middle" font-weight="bold" font-size="9.2" transform="translate(371.8,0) scale(0.92,1) translate(-371.8,0)">Time post-injection (hours)</text>
<path d="M478,0L759,0L759,1409L493,1409L140,1180L140,959L478,1170Z" transform="translate(388.755,8) scale(0.004785,-0.004785)" fill="#1a1a1a" stroke="#1a1a1a" stroke-width="41.80"/>
<path d="M515,0L696,0L696,1409L530,1409L197,1180L197,1010L515,1237Z" transform="translate(41.041,121) scale(0.003906,-0.003906)" fill="#1a1a1a" stroke="#1a1a1a" stroke-width="71.68"/>
<path d="M515,0L696,0L696,1409L530,1409L197,1180L197,1010L515,1237Z" transform="translate(79.603,154) scale(0.003906,-0.003906)" fill="#1a1a1a" stroke="#1a1a1a" stroke-width="71.68"/>
<path d="M515,0L696,0L696,1409L530,1409L197,1180L197,1010L515,1237Z" transform="translate(229.747,154) scale(0.003906,-0.003906)" fill="#1a1a1a" stroke="#1a1a1a" stroke-width="71.68"/>
<path d="M515,0L696,0L696,1409L530,1409L197,1180L197,1010L515,1237Z" transform="translate(242.841,121) scale(0.003906,-0.003906)" fill="#1a1a1a" stroke="#1a1a1a" stroke-width="71.68"/>
<path d="M515,0L696,0L696,1409L530,1409L197,1180L197,1010L515,1237Z" transform="translate(283.393,154) scale(0.003906,-0.003906)" fill="#1a1a1a" stroke="#1a1a1a" stroke-width="71.68"/>
<path d="M515,0L696,0L696,1409L530,1409L197,1180L197,1010L515,1237Z" transform="translate(446.947,154) scale(0.003906,-0.003906)" fill="#1a1a1a" stroke="#1a1a1a" stroke-width="71.68"/>
<path d="M515,0L696,0L696,1409L530,1409L197,1180L197,1010L515,1237Z" transform="translate(470.141,117) scale(0.003906,-0.003906)" fill="#1a1a1a" stroke="#1a1a1a" stroke-width="71.68"/>
<path d="M515,0L696,0L696,1409L530,1409L197,1180L197,1010L515,1237Z" transform="translate(510.843,154) scale(0.003906,-0.003906)" fill="#1a1a1a" stroke="#1a1a1a" stroke-width="71.68"/>
<path d="M515,0L696,0L696,1409L530,1409L197,1180L197,1010L515,1237Z" transform="translate(675.747,154) scale(0.003906,-0.003906)" fill="#1a1a1a" stroke="#1a1a1a" stroke-width="71.68"/>
<path d="M515,0L696,0L696,1409L530,1409L197,1180L197,1010L515,1237Z" transform="translate(45.494,191) scale(0.003906,-0.003906)" fill="#1a1a1a" stroke="#1a1a1a" stroke-width="71.68"/>
<path d="M515,0L696,0L696,1409L530,1409L197,1180L197,1010L515,1237Z" transform="translate(79.603,327) scale(0.003906,-0.003906)" fill="#1a1a1a" stroke="#1a1a1a" stroke-width="71.68"/>
<path d="M515,0L696,0L696,1409L530,1409L197,1180L197,1010L515,1237Z" transform="translate(229.747,327) scale(0.003906,-0.003906)" fill="#1a1a1a" stroke="#1a1a1a" stroke-width="71.68"/>
<path d="M515,0L696,0L696,1409L530,1409L197,1180L197,1010L515,1237Z" transform="translate(283.393,327) scale(0.003906,-0.003906)" fill="#1a1a1a" stroke="#1a1a1a" stroke-width="71.68"/>
<path d="M515,0L696,0L696,1409L530,1409L197,1180L197,1010L515,1237Z" transform="translate(446.947,327) scale(0.003906,-0.003906)" fill="#1a1a1a" stroke="#1a1a1a" stroke-width="71.68"/>
<path d="M515,0L696,0L696,1409L530,1409L197,1180L197,1010L515,1237Z" transform="translate(479.047,283) scale(0.003906,-0.003906)" fill="#1a1a1a" stroke="#1a1a1a" stroke-width="71.68"/>
<path d="M515,0L696,0L696,1409L530,1409L197,1180L197,1010L515,1237Z" transform="translate(510.843,327) scale(0.003906,-0.003906)" fill="#1a1a1a" stroke="#1a1a1a" stroke-width="71.68"/>
<path d="M515,0L696,0L696,1409L530,1409L197,1180L197,1010L515,1237Z" transform="translate(675.747,327) scale(0.003906,-0.003906)" fill="#1a1a1a" stroke="#1a1a1a" stroke-width="71.68"/>
<path d="M515,0L696,0L696,1409L530,1409L197,1180L197,1010L515,1237Z" transform="translate(631.500,190) scale(0.004150,-0.004150)" fill="#1a1a1a" stroke="#1a1a1a" stroke-width="67.46"/>
<path d="M515,0L696,0L696,1409L530,1409L197,1180L197,1010L515,1237Z" transform="translate(631.500,199) scale(0.004150,-0.004150)" fill="#1a1a1a" stroke="#1a1a1a" stroke-width="67.46"/>
</svg>
</body></html>
